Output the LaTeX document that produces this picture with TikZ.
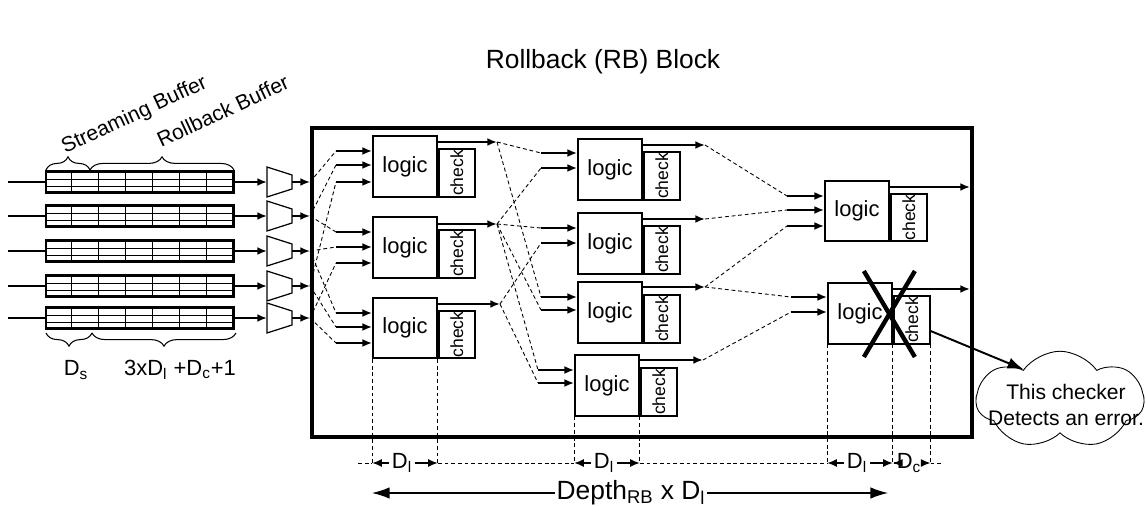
\documentclass[tikz,border=0pt]{standalone}
\usepackage{fontspec}
\setmainfont{Liberation Sans}
\usetikzlibrary{arrows.meta,shapes.symbols,decorations.pathreplacing}

\tikzset{
  wire/.style={line width=1.1pt},
  arr/.style={wire,-{Latex[length=5.5pt,width=4.5pt]}},
  bigarr/.style={wire,-{Latex[length=9pt,width=6.5pt]}},
  link/.style={line width=0.5pt,dash pattern=on 2.2pt off 1.6pt},
  dim/.style={line width=0.5pt,dash pattern=on 2.2pt off 1.6pt},
  dimarr/.style={line width=0.8pt,-{Latex[length=5.5pt,width=4.5pt]}},
  deparr/.style={line width=0.7pt,-{Latex[length=10pt,width=6.5pt]}},
  xmark/.style={line width=2.5pt},
  rbbox/.style={draw,line width=2.3pt,minimum width=13.2cm,minimum height=6.18cm,inner sep=0pt},
  bufbox/.style={draw,line width=1.3pt,minimum width=3.76cm,minimum height=0.42cm,inner sep=0pt},
  muxpic/.pic={
    \draw[line width=0.7pt] (-12.5,-15) -- (12.5,-7) -- (12.5,7) -- (-12.5,15) -- cycle;
    \coordinate (-in) at (-12.5,0);
    \coordinate (-out) at (12.5,0);
  },
  logicbox/.style={draw,line width=1pt,minimum width=1.28cm,minimum height=1.21cm,inner sep=0pt,
    font=\fontsize{12.5}{14}\selectfont},
  checkbox/.style={draw,line width=1pt,minimum width=0.72cm,minimum height=0.95cm,inner sep=0pt,
    anchor=south west,font=\fontsize{10}{11}\selectfont},
  brace/.style={line width=0.6pt,decorate,decoration={brace,amplitude=7.5pt}},
  bracelbl/.style={rotate=25,anchor=base west,inner sep=0pt,font=\fontsize{12}{14}\selectfont},
  lbl/.style={inner sep=1pt,font=\fontsize{12.5}{14}\selectfont},
  dimlbl/.style={inner sep=1.5pt,font=\fontsize{12.5}{14}\selectfont},
  cloudbox/.style={draw,cloud,cloud puffs=7,cloud puff arc=110,cloud ignores aspect,minimum width=3.35cm,
    minimum height=1.95cm,inner sep=0pt,line width=0.5pt},
  cloudtxt/.style={align=center,inner sep=0pt,font=\fontsize{12}{14.5}\selectfont},
}

\begin{document}
\begin{tikzpicture}[x=0.02cm,y=-0.02cm]
\useasboundingbox (0,0) rectangle (1146,506);

\node[font=\fontsize{15}{18}\selectfont] (title) at (603,62) {Rollback (RB) Block};
\node[rbbox] (rb) at (642,282.5) {};

% buffers and muxes
\coordinate (src1) at (8,182);
\coordinate (src2) at (8,216);
\coordinate (src3) at (8,251);
\coordinate (src4) at (8,286);
\coordinate (src5) at (8,318);
\node[bufbox] (buf1) at (140,182) {};
\node[bufbox] (buf2) at (140,216) {};
\node[bufbox] (buf3) at (140,251) {};
\node[bufbox] (buf4) at (140,286) {};
\node[bufbox] (buf5) at (140,318) {};
\draw[thin,xstep=0.5371cm,ystep=0.14cm,shift={(buf1.south west)}] (0,0) grid (188,-21);
\draw[thin,xstep=0.5371cm,ystep=0.14cm,shift={(buf2.south west)}] (0,0) grid (188,-21);
\draw[thin,xstep=0.5371cm,ystep=0.14cm,shift={(buf3.south west)}] (0,0) grid (188,-21);
\draw[thin,xstep=0.5371cm,ystep=0.14cm,shift={(buf4.south west)}] (0,0) grid (188,-21);
\draw[thin,xstep=0.5371cm,ystep=0.14cm,shift={(buf5.south west)}] (0,0) grid (188,-21);
\pic (mux1) at (279.5,182) {muxpic};
\pic (mux2) at (279.5,216) {muxpic};
\pic (mux3) at (279.5,251) {muxpic};
\pic (mux4) at (279.5,286) {muxpic};
\pic (mux5) at (279.5,318) {muxpic};
\draw[wire] (src1) -- (buf1.west);
\draw[wire] (src2) -- (buf2.west);
\draw[wire] (src3) -- (buf3.west);
\draw[wire] (src4) -- (buf4.west);
\draw[wire] (src5) -- (buf5.west);
\draw[arr] (buf1.east) -- (mux1-in);
\draw[arr] (buf2.east) -- (mux2-in);
\draw[arr] (buf3.east) -- (mux3-in);
\draw[arr] (buf4.east) -- (mux4-in);
\draw[arr] (buf5.east) -- (mux5-in);
\draw[arr] (mux1-out) -- (mux1-out -| rb.west);
\draw[arr] (mux2-out) -- (mux2-out -| rb.west);
\draw[arr] (mux3-out) -- (mux3-out -| rb.west);
\draw[arr] (mux4-out) -- (mux4-out -| rb.west);
\draw[arr] (mux5-out) -- (mux5-out -| rb.west);

% braces
\draw[brace] (46,170) -- (90,170);
\draw[brace] (90,170) -- (234,170);
\draw[brace] (92,333) -- (46,333);
\draw[brace] (236,333) -- (92,333);
\node[bracelbl] (sblbl) at (65,154) {Streaming Buffer};
\node[bracelbl] (rblbl) at (161,148) {Rollback Buffer};
\node[lbl] (dslbl) at (76,370) {D\textsubscript{s}};
\node[lbl] (rblen) at (180,370) {3xD\textsubscript{l} +D\textsubscript{c}+1};

% logic stages
\node[logicbox] (lgA1) at (405,166.5) {logic};
\node[logicbox] (lgA2) at (405,247.5) {logic};
\node[logicbox] (lgA3) at (405,328) {logic};
\node[logicbox] (lgB1) at (610,169.5) {logic};
\node[logicbox] (lgB2) at (610,243.5) {logic};
\node[logicbox] (lgB3) at (610,312.5) {logic};
\node[logicbox] (lgB4) at (607,385.5) {logic};
\node[logicbox] (lgC1) at (857,211) {logic};
\node[logicbox] (lgC2) at (860,313.5) {logic};
\node[checkbox] (ckA1) at (lgA1.south east) {\rotatebox{90}{check}};
\node[checkbox] (ckA2) at (lgA2.south east) {\rotatebox{90}{check}};
\node[checkbox] (ckA3) at (lgA3.south east) {\rotatebox{90}{check}};
\node[checkbox] (ckB1) at (lgB1.south east) {\rotatebox{90}{check}};
\node[checkbox] (ckB2) at (lgB2.south east) {\rotatebox{90}{check}};
\node[checkbox] (ckB3) at (lgB3.south east) {\rotatebox{90}{check}};
\node[checkbox] (ckB4) at (lgB4.south east) {\rotatebox{90}{check}};
\node[checkbox] (ckC1) at (lgC1.south east) {\rotatebox{90}{check}};
\node[checkbox] (ckC2) at (lgC2.south east) {\rotatebox{90}{check}};

% inputs
\coordinate (inA1a) at (336,151);
\coordinate (inA1b) at (336,165);
\coordinate (inA1c) at (336,182);
\coordinate (inA2a) at (336,232);
\coordinate (inA2b) at (336,247);
\coordinate (inA2c) at (336,263);
\coordinate (inA3a) at (336,313);
\coordinate (inA3b) at (336,327);
\coordinate (inA3c) at (336,343);
\coordinate (inB1a) at (541,153);
\coordinate (inB1b) at (541,168);
\coordinate (inB2a) at (541,228);
\coordinate (inB2b) at (541,243);
\coordinate (inB3a) at (541,297);
\coordinate (inB3b) at (541,310);
\coordinate (inB4a) at (538,370);
\coordinate (inB4b) at (538,383);
\coordinate (inC1a) at (787,196);
\coordinate (inC1b) at (787,210);
\coordinate (inC1c) at (787,226);
\coordinate (inC2a) at (791,297);
\coordinate (inC2b) at (791,312);
\draw[arr] (inA1a) -- (inA1a -| lgA1.west);
\draw[arr] (inA1b) -- (inA1b -| lgA1.west);
\draw[arr] (inA1c) -- (inA1c -| lgA1.west);
\draw[arr] (inA2a) -- (inA2a -| lgA2.west);
\draw[arr] (inA2b) -- (inA2b -| lgA2.west);
\draw[arr] (inA2c) -- (inA2c -| lgA2.west);
\draw[arr] (inA3a) -- (inA3a -| lgA3.west);
\draw[arr] (inA3b) -- (inA3b -| lgA3.west);
\draw[arr] (inA3c) -- (inA3c -| lgA3.west);
\draw[arr] (inB1a) -- (inB1a -| lgB1.west);
\draw[arr] (inB1b) -- (inB1b -| lgB1.west);
\draw[arr] (inB2a) -- (inB2a -| lgB2.west);
\draw[arr] (inB2b) -- (inB2b -| lgB2.west);
\draw[arr] (inB3a) -- (inB3a -| lgB3.west);
\draw[arr] (inB3b) -- (inB3b -| lgB3.west);
\draw[arr] (inB4a) -- (inB4a -| lgB4.west);
\draw[arr] (inB4b) -- (inB4b -| lgB4.west);
\draw[arr] (inC1a) -- (inC1a -| lgC1.west);
\draw[arr] (inC1b) -- (inC1b -| lgC1.west);
\draw[arr] (inC1c) -- (inC1c -| lgC1.west);
\draw[arr] (inC2a) -- (inC2a -| lgC2.west);
\draw[arr] (inC2b) -- (inC2b -| lgC2.west);

% outputs
\coordinate (oA1) at (497,142);
\coordinate (oA2) at (497,224);
\coordinate (oA3) at (500,304);
\coordinate (oB1) at (705,145);
\coordinate (oB2) at (705,219);
\coordinate (oB3) at (705,287);
\coordinate (oB4) at (703,360);
\coordinate (oC1) at (970,187);
\coordinate (oC2) at (970,289);
\draw[arr] (lgA1.north east |- oA1) -- (oA1);
\draw[arr] (lgA2.north east |- oA2) -- (oA2);
\draw[arr] (lgA3.north east |- oA3) -- (oA3);
\draw[arr] (lgB1.north east |- oB1) -- (oB1);
\draw[arr] (lgB2.north east |- oB2) -- (oB2);
\draw[arr] (lgB3.north east |- oB3) -- (oB3);
\draw[arr] (lgB4.north east |- oB4) -- (oB4);
\draw[arr] (lgC1.north east |- oC1) -- (oC1);
\draw[arr] (lgC2.north east |- oC2) -- (oC2);

% routing
\draw[link] (mux1-out -| rb.west) -- (inA1a);
\draw[link] (mux2-out -| rb.west) -- (inA1b);
\draw[link] (mux2-out -| rb.west) -- (inA2a);
\draw[link] (mux3-out -| rb.west) -- (inA2b);
\draw[link] (mux3-out -| rb.west) -- (inA3a);
\draw[link] (mux4-out -| rb.west) -- (inA1c);
\draw[link] (mux4-out -| rb.west) -- (inA3b);
\draw[link] (mux5-out -| rb.west) -- (inA2c);
\draw[link] (mux5-out -| rb.west) -- (inA3c);
\draw[link] (oA1) -- (inB1a);
\draw[link] (oA1) -- (inB3a);
\draw[link] (oA2) -- (inB1b);
\draw[link] (oA2) -- (inB2a);
\draw[link] (oA2) -- (inB3b);
\draw[link] (oA2) -- (inB4a);
\draw[link] (oA3) -- (inB2b);
\draw[link] (oA3) -- (inB4b);
\draw[link] (oB1) -- (inC1a);
\draw[link] (oB2) -- (inC1b);
\draw[link] (oB3) -- (inC1c);
\draw[link] (oB3) -- (inC2a);
\draw[link] (oB4) -- (inC2b);

% failing checker
\draw[xmark] ([shift={(-29,-42.5)}]lgC2.east) -- ([shift={(22,43.5)}]lgC2.east);
\draw[xmark] ([shift={(22,-42.5)}]lgC2.east) -- ([shift={(-29,43.5)}]lgC2.east);
\node[cloudbox] (cloud) at (1060,400) {};
\node[cloudtxt] (cloudtxt) at (1066,405) {This checker\\Detects an error.};
\draw[bigarr] ([shift={(0,11)}]ckC2.east) -- (cloud.140);

% dimensions
\coordinate (dimrow) at (0,463);
\coordinate (dimL) at (358,463);
\coordinate (dimR) at (942,463);
\draw[dim] (lgA3.south west) -- (lgA3.south west |- dimrow);
\draw[dim] (lgA3.south east) -- (lgA3.south east |- dimrow);
\draw[dim] (lgB4.south west) -- (lgB4.south west |- dimrow);
\draw[dim] (lgB4.south east) -- (lgB4.south east |- dimrow);
\draw[dim] (lgC2.south west) -- (lgC2.south west |- dimrow);
\draw[dim] (lgC2.south east) -- (lgC2.south east |- dimrow);
\draw[dim] (ckC2.south east) -- (ckC2.south east |- dimrow);
\draw[dim] (dimL) -- (lgA3.south west |- dimrow);
\draw[dim] (lgA3.south east |- dimrow) -- (lgB4.south west |- dimrow);
\draw[dim] (lgB4.south east |- dimrow) -- (lgC2.south west |- dimrow);
\draw[dim] (ckC2.south east |- dimrow) -- (dimR);
\node[dimlbl] (dA) at (402,463) {D\textsubscript{l}};
\node[dimlbl] (dB) at (604,463) {D\textsubscript{l}};
\node[dimlbl] (dC) at (857,463) {D\textsubscript{l}};
\node[dimlbl] (dD) at (909,463) {D\textsubscript{c}};
\draw[dimarr] (dA.west) -- (lgA3.south west |- dA.west);
\draw[dimarr] (dA.east) -- (lgA3.south east |- dA.east);
\draw[dimarr] (dB.west) -- (lgB4.south west |- dB.west);
\draw[dimarr] (dB.east) -- (lgB4.south east |- dB.east);
\draw[dimarr] (dC.west) -- (lgC2.south west |- dC.west);
\draw[dimarr] (dC.east) -- (lgC2.south east |- dC.east);
\draw[dimarr] (dD.west) -- (ckC2.south west |- dD.west);
\draw[dimarr] (dD.east) -- (ckC2.south east |- dD.east);

\node[lbl,font=\fontsize{15}{17}\selectfont] (depth) at (631,493) {Depth\textsubscript{RB} x D\textsubscript{l}};
\coordinate (depL) at (372,493);
\coordinate (depR) at (888,493);
\draw[deparr] (depth.west) -- (depL);
\draw[deparr] (depth.east) -- (depR);
\end{tikzpicture}
\end{document}
